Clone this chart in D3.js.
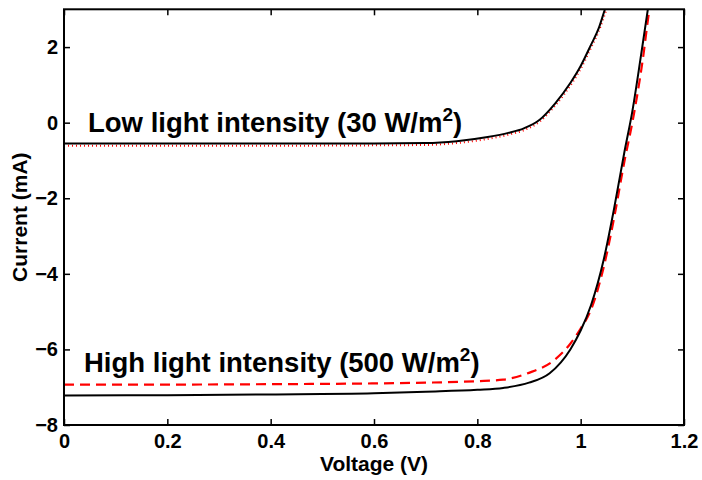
<!DOCTYPE html>
<meta charset="utf-8">
<body style="margin:0;background:#fff">
<script src="https://d3js.org/d3.v7.min.js"></script>
<script>

var width = 702,
    height = 480,
    margin = {top: 9.3, right: 18, bottom: 55, left: 64};

// low light (30 W/m2): measured (black) and fit (red dotted)
var lowV    = [0, 0.2, 0.4, 0.6, 0.7, 0.76, 0.82, 0.86, 0.89, 0.92, 0.95, 0.98, 1.0, 1.02, 1.035, 1.047, 1.06];
var lowI    = [-0.55, -0.55, -0.55, -0.55, -0.54, -0.49, -0.38, -0.27, -0.15, 0.07, 0.5, 1.05, 1.5, 2.06, 2.5, 3.0, 3.5];
var lowFitV = [0, 0.2, 0.4, 0.6, 0.7, 0.76, 0.82, 0.86, 0.89, 0.92, 0.95, 0.98, 1.0, 1.02, 1.035, 1.05, 1.06];
var lowFitI = [-0.61, -0.61, -0.61, -0.6, -0.59, -0.54, -0.43, -0.32, -0.2, 0.02, 0.44, 0.98, 1.42, 1.98, 2.42, 3.0, 3.4];

// high light (500 W/m2): measured (black) and fit (red dashed)
var highV    = [0, 0.2, 0.4, 0.6, 0.7, 0.8, 0.85, 0.9, 0.94, 0.98, 1.0, 1.02, 1.045, 1.065, 1.085, 1.1, 1.117, 1.13, 1.14];
var highI    = [-7.22, -7.21, -7.19, -7.16, -7.12, -7.07, -7.02, -6.88, -6.63, -6.0, -5.5, -4.83, -3.6, -2.25, -0.75, 0.3, 1.8, 3.0, 4.0];
var highFitV = [0, 0.2, 0.4, 0.6, 0.7, 0.8, 0.85, 0.9, 0.95, 0.98, 1.0, 1.02, 1.045, 1.065, 1.085, 1.1, 1.12, 1.133, 1.14];
var highFitI = [-6.93, -6.93, -6.92, -6.9, -6.88, -6.84, -6.8, -6.62, -6.27, -5.85, -5.45, -4.95, -3.8, -2.5, -1.0, 0.0, 1.65, 3.0, 3.6];

var xTicks = [0, 0.2, 0.4, 0.6, 0.8, 1, 1.2];
var yTicks = [-8, -6, -4, -2, 0, 2];

var w = width - margin.left - margin.right,
    h = height - margin.top - margin.bottom;

var x = d3.scaleLinear().domain([0, 1.2]).range([0, w]);
var y = d3.scaleLinear().domain([-8, 3]).range([h, 0]);

var svg = d3.select("body").append("svg")
    .attr("width", width)
    .attr("height", height)
    .style("font-family", "Arial, 'Liberation Sans', Helvetica, sans-serif")
    .style("font-weight", "bold");

var g = svg.append("g")
    .attr("transform", "translate(" + margin.left + "," + margin.top + ")");

g.append("clipPath").attr("id", "clip")
  .append("rect").attr("width", w).attr("height", h);

function pts(vs, is) {
  return vs.map(function(v, i) { return [v, is[i]]; });
}

var line = d3.line()
    .x(function(d) { return x(d[0]); })
    .y(function(d) { return y(d[1]); })
    .curve(d3.curveMonotoneX);

var plot = g.append("g").attr("clip-path", "url(#clip)");

plot.append("path")
    .attr("d", line(pts(lowFitV, lowFitI)))
    .attr("fill", "none")
    .attr("stroke", "#ff0000")
    .attr("stroke-width", 2)
    .attr("stroke-dasharray", "1,3");

plot.append("path")
    .attr("d", line(pts(highFitV, highFitI)))
    .attr("fill", "none")
    .attr("stroke", "#ff0000")
    .attr("stroke-width", 2.2)
    .attr("stroke-dasharray", "10,6");

plot.append("path")
    .attr("d", line(pts(lowV, lowI)))
    .attr("fill", "none")
    .attr("stroke", "#000")
    .attr("stroke-width", 2);

plot.append("path")
    .attr("d", line(pts(highV, highI)))
    .attr("fill", "none")
    .attr("stroke", "#000")
    .attr("stroke-width", 2);

// axes, ticks pointing inward on all four sides
var xb = g.append("g").attr("transform", "translate(0," + h + ")")
    .call(d3.axisBottom(x).tickValues(xTicks).tickSizeInner(-6).tickSizeOuter(0).tickPadding(9)
      .tickFormat(function(d) { return d3.format("")(d); }));
var xt = g.append("g")
    .call(d3.axisTop(x).tickValues(xTicks).tickSizeInner(-6).tickSizeOuter(0).tickFormat(""));
var yl = g.append("g")
    .call(d3.axisLeft(y).tickValues(yTicks).tickSizeInner(-6).tickSizeOuter(0).tickPadding(6));
var yr = g.append("g").attr("transform", "translate(" + w + ",0)")
    .call(d3.axisRight(y).tickValues(yTicks).tickSizeInner(-6).tickSizeOuter(0).tickFormat(""));

[xb, xt, yl, yr].forEach(function(a) {
  a.select(".domain").remove();
  a.selectAll(".tick line").attr("stroke", "#000").attr("stroke-width", 1.5);
  a.selectAll("text")
    .attr("fill", "#000")
    .style("font-size", "20px")
    .style("font-family", "Arial, 'Liberation Sans', Helvetica, sans-serif")
    .style("font-weight", "bold");
});

g.append("rect")
    .attr("width", w)
    .attr("height", h)
    .attr("fill", "none")
    .attr("stroke", "#000")
    .attr("stroke-width", 2);

svg.append("text")
    .attr("x", margin.left + w / 2)
    .attr("y", 471)
    .attr("text-anchor", "middle")
    .style("font-size", "21px")
    .text("Voltage (V)");

svg.append("text")
    .attr("transform", "translate(27," + (margin.top + h / 2) + ") rotate(-90)")
    .attr("text-anchor", "middle")
    .style("font-size", "21px")
    .text("Current (mA)");

function annot(xp, yp, label, tail) {
  var t = svg.append("text")
      .attr("x", xp)
      .attr("y", yp)
      .style("font-size", "27.5px");
  t.append("tspan").text(label);
  t.append("tspan").attr("dy", -11).style("font-size", "19px").text("2");
  t.append("tspan").attr("dy", 11).text(tail);
}

annot(88, 132, "Low light intensity (30 W/m", ")");
annot(84, 372, "High light intensity (500 W/m", ")");

</script>
